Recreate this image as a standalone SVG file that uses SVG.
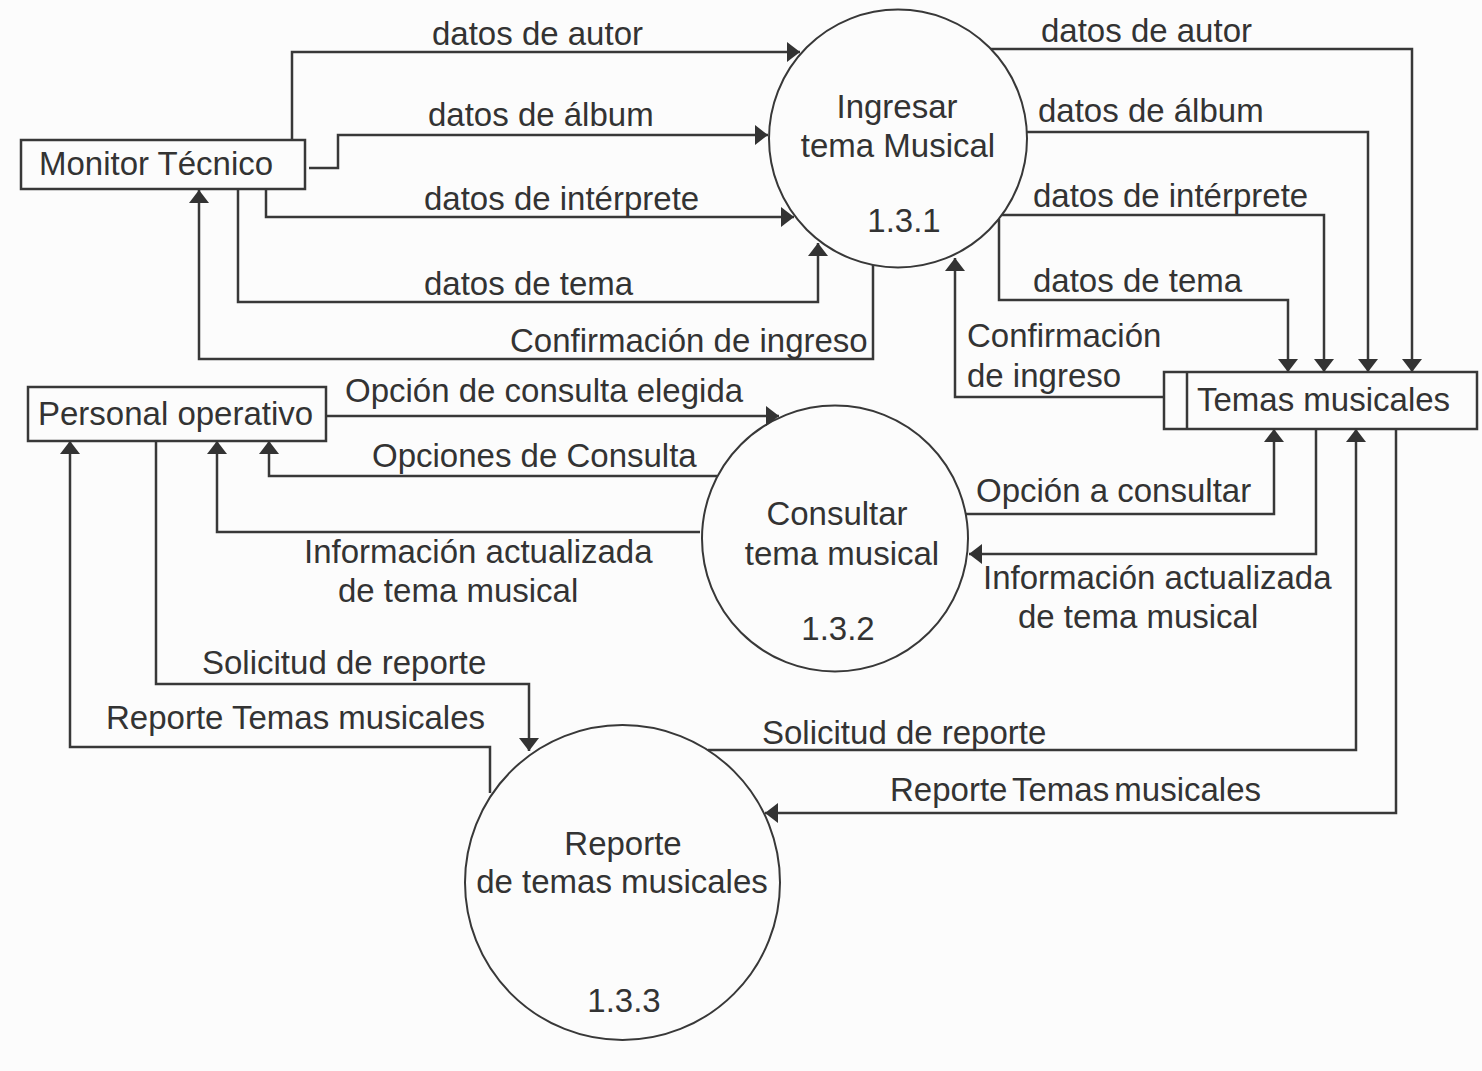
<svg xmlns="http://www.w3.org/2000/svg" width="1482" height="1071" viewBox="0 0 1482 1071">
<style>
text{font-family:"Liberation Sans",Arial,sans-serif;font-size:33px;fill:#333}
.c{text-anchor:middle}
.ln{fill:none;stroke:#383838;stroke-width:2.5}
.arr{fill:none;stroke:#383838;stroke-width:2.5;marker-end:url(#ah)}
.nd{fill:none;stroke:#383838;stroke-width:2.5}
.pr{fill:none;stroke:#383838;stroke-width:2}
</style>
<defs>
<marker id="ah" markerUnits="userSpaceOnUse" viewBox="0 0 13 20" refX="13" refY="10" markerWidth="13" markerHeight="20" orient="auto">
<path d="M0,0 L13,10 L0,20 z" fill="#333"/>
</marker>
</defs>
<rect x="0" y="0" width="1482" height="1071" fill="#fcfcfc"/>

<g id="monitor">
<rect class="nd" x="21" y="140" width="284" height="49"/>
<text x="39" y="175">Monitor Técnico</text>
</g>
<g id="personal">
<rect class="nd" x="28" y="387" width="298" height="54"/>
<text x="38" y="425">Personal operativo</text>
</g>
<g id="store">
<rect class="nd" x="1164" y="372" width="313" height="57"/>
<line class="nd" x1="1187" y1="372" x2="1187" y2="429"/>
<text x="1197" y="411">Temas musicales</text>
</g>
<g id="p131">
<circle class="pr" cx="898" cy="138.5" r="129"/>
<text class="c" x="897" y="118">Ingresar</text>
<text class="c" x="898" y="157">tema Musical</text>
<text class="c" x="904" y="232">1.3.1</text>
</g>
<g id="p132">
<circle class="pr" cx="835" cy="538.5" r="133"/>
<text class="c" x="837" y="525">Consultar</text>
<text class="c" x="842" y="565">tema musical</text>
<text class="c" x="838" y="640">1.3.2</text>
</g>
<g id="p133">
<circle class="pr" cx="622.5" cy="882.5" r="157.5"/>
<text class="c" x="623" y="855">Reporte</text>
<text class="c" x="622" y="893">de temas musicales</text>
<text class="c" x="624" y="1012">1.3.3</text>
</g>

<g id="connectors">
<polyline class="arr" points="292,140 292,52 800,52"/>
<polyline class="arr" points="309,168 338,168 338,135 768,135"/>
<polyline class="arr" points="266,189 266,217 794,217"/>
<polyline class="arr" points="238,189 238,302 818,302 818,243"/>
<polyline class="arr" points="873,265 873,359 199,359 199,190"/>

<polyline class="arr" points="991,49 1412,49 1412,372"/>
<polyline class="arr" points="1027,132 1368,132 1368,372"/>
<polyline class="arr" points="1002,215 1324,215 1324,372"/>
<polyline class="arr" points="999,219 999,300 1288,300 1288,372"/>
<polyline class="arr" points="1164,397 955,397 955,258"/>

<polyline class="arr" points="326,416 779,416"/>
<polyline class="arr" points="717,476 269,476 269,441"/>
<polyline class="arr" points="700,532 217,532 217,441"/>
<polyline class="arr" points="156,441 156,684 529,684 529,751"/>
<polyline class="arr" points="490,793 490,747 70,747 70,441"/>

<polyline class="arr" points="966,514 1274,514 1274,429"/>
<polyline class="arr" points="1316,429 1316,554 969,554"/>
<polyline class="arr" points="708,750 1356,750 1356,429"/>
<polyline class="arr" points="1396,429 1396,813 765,813"/>

<text x="432" y="45">datos de autor</text>
<text x="428" y="126">datos de álbum</text>
<text x="424" y="210">datos de intérprete</text>
<text x="424" y="295">datos de tema</text>
<text x="510" y="352">Confirmación de ingreso</text>
<text x="1041" y="42">datos de autor</text>
<text x="1038" y="122">datos de álbum</text>
<text x="1033" y="207">datos de intérprete</text>
<text x="1033" y="292">datos de tema</text>
<text x="967" y="347">Confirmación</text>
<text x="967" y="387">de ingreso</text>
<text x="345" y="402">Opción de consulta elegida</text>
<text x="372" y="467">Opciones de Consulta</text>
<text x="304" y="563">Información actualizada</text>
<text x="338" y="602">de tema musical</text>
<text x="202" y="674">Solicitud de reporte</text>
<text x="106" y="729">Reporte Temas musicales</text>
<text x="976" y="502">Opción a consultar</text>
<text x="983" y="589">Información actualizada</text>
<text x="1018" y="628">de tema musical</text>
<text x="762" y="744">Solicitud de reporte</text>
<text x="890" y="801" word-spacing="-4">Reporte Temas musicales</text>
</g>
</svg>
